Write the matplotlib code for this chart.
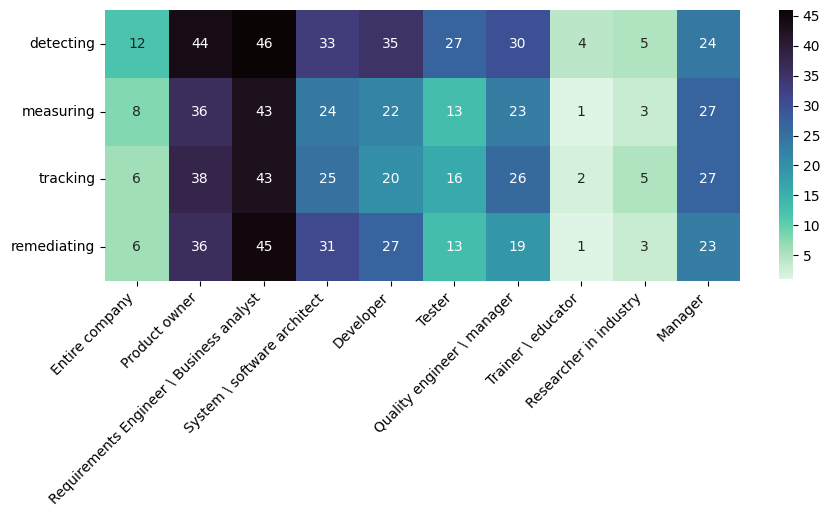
import numpy as np
import pandas as pd
import matplotlib
matplotlib.use("Agg")
import matplotlib.pyplot as plt
import seaborn as sns

roles = ["Entire company", "Product owner", "Requirements Engineer \\ Business analyst",
         "System \\ software architect", "Developer", "Tester",
         "Quality engineer \\ manager", "Trainer \\ educator",
         "Researcher in industry", "Manager"]
activities = ["detecting", "measuring", "tracking", "remediating"]

detecting = [12, 44, 46, 33, 35, 27, 30, 4, 5, 24]
measuring = [8, 36, 43, 24, 22, 13, 23, 1, 3, 27]
tracking = [6, 38, 43, 25, 20, 16, 26, 2, 5, 27]
remediating = [6, 36, 45, 31, 27, 13, 19, 1, 3, 23]

df = pd.DataFrame([detecting, measuring, tracking, remediating],
                  index=activities, columns=roles)

fig = plt.figure(figsize=(8.31, 5.22), dpi=100)
ax = fig.add_axes([105/831, 1 - 281/522, (740 - 105)/831, (281 - 10)/522])
cax = fig.add_axes([779/831, 1 - 279/522, 14/831, 269/522])

sns.heatmap(df, annot=True, fmt="d", cmap="mako_r", ax=ax, cbar_ax=cax,
            annot_kws={"fontsize": 10})

ax.set_xticklabels(ax.get_xticklabels(), rotation=45, ha="right", fontsize=10)
ax.set_yticklabels(ax.get_yticklabels(), rotation=0, fontsize=10)
cax.tick_params(labelsize=10)

fig.savefig("out.png", dpi=100)
